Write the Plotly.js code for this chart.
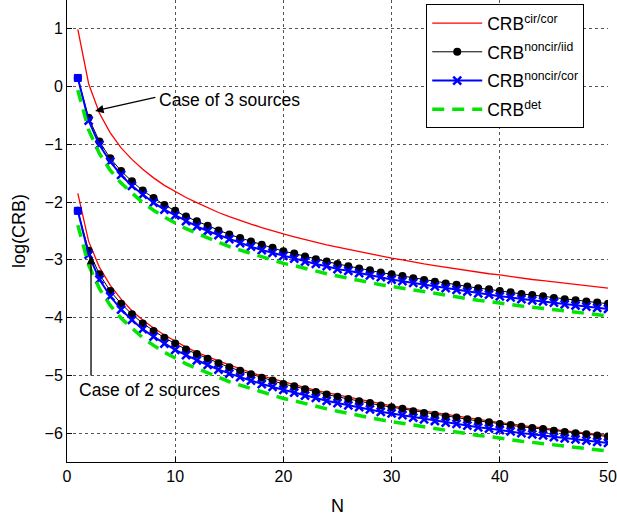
<!DOCTYPE html>
<html>
<head>
<meta charset="utf-8">
<script src="https://cdn.plot.ly/plotly-3.0.1.min.js"></script>
<style>html,body{margin:0;padding:0;background:#fff;}#chart{width:617px;height:518px;}</style>
</head>
<body>
<div id="chart"></div>
<script>
const N = [1,2,3,4,5,6,7,8,9,10,11,12,13,14,15,16,17,18,19,20,21,22,23,24,25,26,27,28,29,30,31,32,33,34,35,36,37,38,39,40,41,42,43,44,45,46,47,48,49,50];

// Case of 3 sources
const cirCor3 = [0.99,0.05,-0.46,-0.80,-1.06,-1.26,-1.43,-1.58,-1.71,-1.82,-1.92,-2.01,-2.10,-2.18,-2.25,-2.32,-2.38,-2.44,-2.50,-2.55,-2.60,-2.65,-2.70,-2.74,-2.78,-2.82,-2.86,-2.90,-2.93,-2.97,-3.00,-3.04,-3.07,-3.10,-3.13,-3.16,-3.18,-3.21,-3.24,-3.26,-3.29,-3.31,-3.34,-3.36,-3.38,-3.41,-3.43,-3.45,-3.47,-3.49];
const noncirIid3 = [0.15,-0.54,-0.95,-1.24,-1.46,-1.64,-1.80,-1.93,-2.05,-2.15,-2.25,-2.33,-2.41,-2.49,-2.56,-2.62,-2.68,-2.74,-2.79,-2.85,-2.89,-2.94,-2.99,-3.03,-3.07,-3.11,-3.15,-3.18,-3.22,-3.25,-3.28,-3.32,-3.35,-3.38,-3.41,-3.43,-3.46,-3.49,-3.51,-3.54,-3.56,-3.59,-3.61,-3.63,-3.66,-3.68,-3.70,-3.72,-3.74,-3.76];
const noncirCor3 = [0.15,-0.59,-1.01,-1.30,-1.53,-1.72,-1.87,-2.01,-2.13,-2.23,-2.33,-2.42,-2.50,-2.57,-2.64,-2.71,-2.77,-2.83,-2.88,-2.93,-2.98,-3.03,-3.07,-3.11,-3.16,-3.19,-3.23,-3.27,-3.30,-3.34,-3.37,-3.40,-3.43,-3.46,-3.49,-3.52,-3.55,-3.58,-3.60,-3.63,-3.65,-3.68,-3.70,-3.72,-3.74,-3.77,-3.79,-3.81,-3.83,-3.85];
const det3 = [-0.06,-0.75,-1.16,-1.45,-1.67,-1.85,-2.01,-2.14,-2.26,-2.36,-2.46,-2.54,-2.62,-2.70,-2.77,-2.83,-2.89,-2.95,-3.00,-3.06,-3.10,-3.15,-3.20,-3.24,-3.28,-3.32,-3.36,-3.39,-3.43,-3.46,-3.49,-3.53,-3.56,-3.59,-3.62,-3.64,-3.67,-3.70,-3.72,-3.75,-3.77,-3.80,-3.82,-3.84,-3.87,-3.89,-3.91,-3.93,-3.95,-3.97];

// Case of 2 sources
const cirCor2 = [-1.85,-2.68,-3.13,-3.44,-3.68,-3.88,-4.04,-4.18,-4.30,-4.41,-4.51,-4.60,-4.68,-4.75,-4.82,-4.89,-4.95,-5.01,-5.06,-5.12,-5.17,-5.21,-5.26,-5.30,-5.34,-5.38,-5.42,-5.46,-5.49,-5.53,-5.56,-5.59,-5.62,-5.65,-5.68,-5.71,-5.74,-5.77,-5.79,-5.82,-5.84,-5.87,-5.89,-5.91,-5.94,-5.96,-5.98,-6.00,-6.02,-6.04];
const noncirIid2 = [-2.15,-2.84,-3.25,-3.54,-3.76,-3.94,-4.10,-4.23,-4.35,-4.45,-4.55,-4.63,-4.71,-4.79,-4.86,-4.92,-4.98,-5.04,-5.09,-5.15,-5.19,-5.24,-5.29,-5.33,-5.37,-5.41,-5.45,-5.48,-5.52,-5.55,-5.58,-5.62,-5.65,-5.68,-5.71,-5.73,-5.76,-5.79,-5.81,-5.84,-5.86,-5.89,-5.91,-5.93,-5.96,-5.98,-6.00,-6.02,-6.04,-6.06];
const noncirCor2 = [-2.15,-2.91,-3.34,-3.63,-3.86,-4.04,-4.20,-4.33,-4.45,-4.56,-4.65,-4.74,-4.82,-4.90,-4.97,-5.03,-5.09,-5.15,-5.20,-5.25,-5.30,-5.35,-5.39,-5.44,-5.48,-5.52,-5.55,-5.59,-5.63,-5.66,-5.69,-5.73,-5.76,-5.79,-5.82,-5.84,-5.87,-5.90,-5.92,-5.95,-5.97,-6.00,-6.02,-6.04,-6.07,-6.09,-6.11,-6.13,-6.15,-6.17];
const det2 = [-2.40,-3.09,-3.50,-3.79,-4.01,-4.19,-4.35,-4.48,-4.60,-4.70,-4.80,-4.88,-4.96,-5.04,-5.11,-5.17,-5.23,-5.29,-5.34,-5.40,-5.44,-5.49,-5.54,-5.58,-5.62,-5.66,-5.70,-5.73,-5.77,-5.80,-5.83,-5.87,-5.90,-5.93,-5.96,-5.98,-6.01,-6.04,-6.06,-6.09,-6.11,-6.14,-6.16,-6.18,-6.21,-6.23,-6.25,-6.27,-6.29,-6.31];

const seriesNames = ['CRB<sup>cir/cor</sup>','CRB<sup>noncir/iid</sup>','CRB<sup>noncir/cor</sup>','CRB<sup>det</sup>'];
const xTicks = [0,10,20,30,40,50];
const yTicks = [1,0,-1,-2,-3,-4,-5,-6];
const ann3 = 'Case of 3 sources';
const ann2 = 'Case of 2 sources';

const RED = '#ff0000', BLK = '#000000', BLU = '#0000ff', GRN = '#00e600';
const FONT = 'Liberation Sans, Arial, sans-serif';

function redTr(y, show){return {x:N,y:y,type:'scatter',mode:'lines',name:seriesNames[0],legendgroup:'a',showlegend:show,line:{color:RED,width:1.3}};}
function blkTr(y, show){return {x:N,y:y,type:'scatter',mode:'lines+markers',name:seriesNames[1],legendgroup:'b',showlegend:show,line:{color:BLK,width:1},marker:{symbol:'circle',size:8,color:BLK}};}
function bluTr(y, show){return {x:N.slice(1),y:y.slice(1),type:'scatter',mode:'lines+markers',name:seriesNames[2],legendgroup:'c',showlegend:show,line:{color:BLU,width:2},marker:{symbol:'x-thin',size:8,color:BLU,line:{color:BLU,width:2.5}}};}
function bluStart(y){return {x:N.slice(0,2),y:y.slice(0,2),type:'scatter',mode:'lines',showlegend:false,legendgroup:'c',line:{color:BLU,width:2},hoverinfo:'skip'};}
function bluSq(y){return {x:[N[0]],y:[y[0]],type:'scatter',mode:'markers',showlegend:false,legendgroup:'c',marker:{symbol:'square',size:7,color:BLU,line:{color:BLU,width:1}}};}
function grnTr(y, show){return {x:N,y:y,type:'scatter',mode:'lines',name:seriesNames[3],legendgroup:'d',showlegend:show,line:{color:GRN,width:3.5,dash:'12px,8px'}};}

const data = [
  redTr(cirCor3,true), blkTr(noncirIid3,true), bluStart(noncirCor3), bluTr(noncirCor3,true), bluSq(noncirCor3), grnTr(det3,true),
  redTr(cirCor2,false), blkTr(noncirIid2,false), bluStart(noncirCor2), bluTr(noncirCor2,false), bluSq(noncirCor2), grnTr(det2,false)
];

const axisCommon = {
  showline:true, linecolor:'#000', linewidth:1, mirror:false,
  ticks:'inside', ticklen:5, tickcolor:'#000', tickwidth:1,
  showgrid:true, gridcolor:'#555', gridwidth:1, griddash:'dot',
  zeroline:false, tickfont:{family:FONT, size:16, color:'#000'}
};

const layout = {
  width:617, height:518,
  margin:{l:67, r:9, t:0, b:56},
  paper_bgcolor:'#fff', plot_bgcolor:'#fff',
  font:{family:FONT, color:'#000'},
  xaxis:Object.assign({}, axisCommon, {range:[0,50], tickvals:xTicks, ticktext:xTicks.map(String), title:{text:'N', font:{size:18}, standoff:15}}),
  yaxis:Object.assign({}, axisCommon, {range:[-6.5,1.5], tickvals:yTicks, title:{text:'log(CRB)', font:{size:18}, standoff:14}}),
  showlegend:true,
  legend:{x:0.664, y:0.991, xanchor:'left', yanchor:'top', bgcolor:'#fff', bordercolor:'#000', borderwidth:1,
    font:{family:FONT, size:17.5, color:'#000'}, tracegroupgap:3, itemwidth:50},
  annotations:[
    {x:2.6, y:-0.42, ax:8.3, ay:-0.18, xref:'x', yref:'y', axref:'x', ayref:'y', text:'', showarrow:true, arrowhead:2, arrowsize:1.3, arrowwidth:1.3, arrowcolor:'#000'},
    {x:8.35, y:-0.23, xref:'x', yref:'y', text:ann3, showarrow:false, xanchor:'left', yanchor:'middle', font:{size:17.5, color:'#000'}},
    {x:2.22, y:-2.93, ax:2.22, ay:-5.03, xref:'x', yref:'y', axref:'x', ayref:'y', text:'', showarrow:true, arrowhead:2, arrowsize:1.3, arrowwidth:1.3, arrowcolor:'#000'},
    {x:0.95, y:-5.25, xref:'x', yref:'y', text:ann2, showarrow:false, xanchor:'left', yanchor:'middle', font:{size:17.5, color:'#000'}}
  ]
};

Plotly.newPlot('chart', data, layout, {displayModeBar:false, staticPlot:true});
</script>
</body>
</html>
